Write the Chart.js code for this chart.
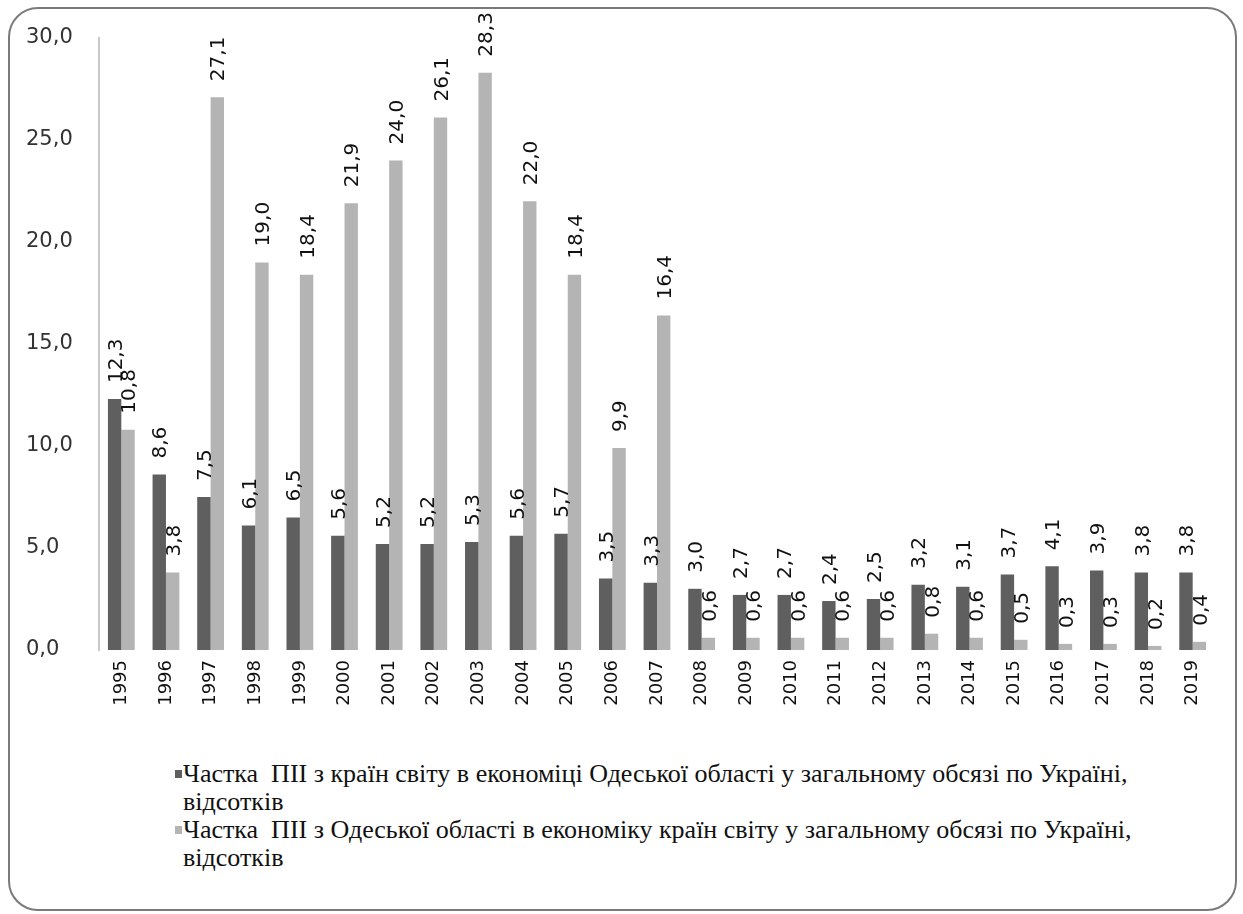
<!DOCTYPE html>
<html>
<head>
<meta charset="utf-8">
<script src="https://cdn.jsdelivr.net/npm/chart.js@4.4.1/dist/chart.umd.min.js"></script>
<style>
  body { margin: 0; background: #fff; }
  #frame {
    position: absolute; left: 8px; top: 7px; width: 1229px; height: 904px;
    border: 2px solid #7a7a7a; border-radius: 30px; box-sizing: border-box;
  }
  #wrap { position: absolute; left: 0; top: 0; width: 1243px; height: 720px; }
  #legend {
    position: absolute; left: 175px; top: 760px; width: 975px;
    font-family: "Liberation Serif", serif; font-size: 26px; line-height: 28px; color: #111;
    white-space: pre-wrap;
  }
  .item { position: relative; padding-left: 8px; }
  .box { position: absolute; left: 0; top: 10px; width: 7px; height: 8px; }
</style>
</head>
<body>
<div id="frame"></div>
<div id="wrap"><canvas id="myChart"></canvas></div>
<div id="legend"></div>
<script>
// data
const years = ['1995', '1996', '1997', '1998', '1999', '2000', '2001', '2002', '2003', '2004', '2005', '2006', '2007',
  '2008', '2009', '2010', '2011', '2012', '2013', '2014', '2015', '2016', '2017', '2018', '2019'];
const fdiInto = [12.3, 8.6, 7.5, 6.1, 6.5, 5.6, 5.2, 5.2, 5.3, 5.6, 5.7, 3.5, 3.3,
  3.0, 2.7, 2.7, 2.4, 2.5, 3.2, 3.1, 3.7, 4.1, 3.9, 3.8, 3.8];
const fdiOut = [10.8, 3.8, 27.1, 19.0, 18.4, 21.9, 24.0, 26.1, 28.3, 22.0, 18.4, 9.9, 16.4,
  0.6, 0.6, 0.6, 0.6, 0.6, 0.8, 0.6, 0.5, 0.3, 0.3, 0.2, 0.4];
const yTicks = [0, 5, 10, 15, 20, 25, 30];
const labelInto = 'Частка  ПІІ з країн світу в економіці Одеської області у загальному обсязі по Україні, відсотків';
const labelOut = 'Частка  ПІІ з Одеської області в економіку країн світу у загальному обсязі по Україні, відсотків';

const ctx = document.getElementById('myChart');

function fmt(v) {
    return v.toFixed(1).replace('.', ',');
}

// rotated value labels above bars
const valueLabels = {
    id: 'valueLabels',
    afterDatasetsDraw(chart) {
        const c = chart.ctx;
        c.save();
        c.font = '20px "DejaVu Sans"';
        c.fillStyle = '#111';
        c.textAlign = 'left';
        c.textBaseline = 'middle';
        chart.data.datasets.forEach((ds, i) => {
            chart.getDatasetMeta(i).data.forEach((bar, j) => {
                c.save();
                c.translate(bar.x + 2, bar.y - 16);
                c.rotate(-Math.PI / 2);
                c.fillText(fmt(ds.data[j]), 0, 0);
                c.restore();
            });
        });
        c.restore();
    }
};

const chart = new Chart(ctx, {
    type: 'bar',
    data: {
        labels: years,
        datasets: [{
            label: labelInto,
            data: fdiInto,
            backgroundColor: '#5f5f5f',
            categoryPercentage: 0.6,
            barPercentage: 1
        }, {
            label: labelOut,
            data: fdiOut,
            backgroundColor: '#b4b4b4',
            categoryPercentage: 0.6,
            barPercentage: 1
        }]
    },
    options: {
        responsive: true,
        maintainAspectRatio: false,
        animation: false,
        layout: { padding: { left: 26, right: 28, top: 38, bottom: 10 } },
        plugins: {
            legend: { display: false },
            tooltip: { enabled: false }
        },
        scales: {
            x: {
                grid: { display: false, drawTicks: false },
                border: { display: false },
                ticks: {
                    minRotation: 90, maxRotation: 90, padding: 10,
                    color: '#111',
                    font: { family: '"DejaVu Sans"', size: 18 }
                },
                afterFit(axis) { axis.height = 60; }
            },
            y: {
                min: 0, max: 30,
                afterBuildTicks(axis) { axis.ticks = yTicks.map(v => ({ value: v })); },
                grid: { display: false, drawTicks: false },
                border: { display: true, color: '#c8c8c8', width: 2 },
                ticks: {
                    crossAlign: 'far',
                    color: '#333',
                    font: { family: '"DejaVu Sans"', size: 21 },
                    callback: v => fmt(v)
                },
                afterFit(axis) { axis.width = 73; }
            }
        }
    },
    plugins: [valueLabels]
});

// legend under chart
const legend = document.getElementById('legend');
chart.data.datasets.forEach(ds => {
    const item = document.createElement('div');
    item.className = 'item';
    item.innerHTML = '<span class="box" style="background:' + ds.backgroundColor + '"></span>' + ds.label;
    legend.appendChild(item);
});
</script>
</body>
</html>
